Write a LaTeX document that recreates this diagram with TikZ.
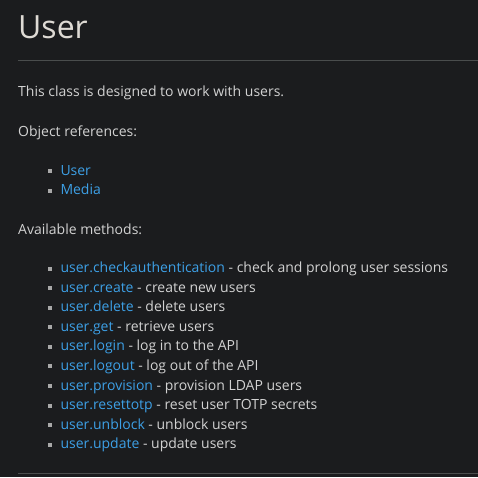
\documentclass[tikz,border=0pt]{standalone}
\usepackage{fontspec}
\setmainfont{Open Sans}
\definecolor{bg}{HTML}{1B1C1E}
\definecolor{txt}{HTML}{D2D2D2}
\definecolor{ttl}{HTML}{DEDAD4}
\definecolor{lnk}{HTML}{3DA0E6}
\definecolor{rulec}{HTML}{4A4D4D}
\definecolor{bul}{HTML}{A8A8A8}
\begin{document}
\begin{tikzpicture}[x=1pt,y=-1pt,
  body/.style={anchor=base west,inner sep=0pt,text=txt,font=\fontsize{14}{16}\selectfont},
  ttlstyle/.style={anchor=base west,inner sep=0pt,text=ttl,font=\fontsize{32}{36}\selectfont},
  hrule/.style={draw=rulec,line width=1pt},
  bullet/.style={fill=bul,draw=none}]
\fill[bg] (0,0) rectangle (478,477);
\useasboundingbox (0,0) rectangle (478,477);
\node[ttlstyle] (title) at (18,38) {User};
\coordinate (r1a) at (18,60.5);
\coordinate (r1b) at (478,60.5);
\draw[hrule] (r1a) -- (r1b);
\node[body] (intro) at (18,96) {This class is designed to work with users.};
\node[body] (objref) at (18,136) {Object references:};
\foreach \y/\nm/\t in {175/o1/User,194.5/o2/Media}{
  \fill[bullet] (48.3,\y-6) rectangle (52.3,\y-2);
  \node[body] (\nm) at (60.3,\y) {\textcolor{lnk}{\t}};
}
\node[body] (avail) at (18,234) {Available methods:};
\foreach \i/\a/\b in {0/checkauthentication/check and prolong user sessions,
  1/create/create new users,
  2/delete/delete users,
  3/get/retrieve users,
  4/login/log in to the API,
  5/logout/log out of the API,
  6/provision/provision LDAP users,
  7/resettotp/reset user TOTP secrets,
  8/unblock/unblock users,
  9/update/update users}{
  \pgfmathsetmacro{\yy}{272.7+19.55*\i}
  \fill[bullet] (48.3,\yy-6) rectangle (52.3,\yy-2);
  \node[body] (m\i) at (60.3,\yy) {\textcolor{lnk}{user.\a} - \b};
}
\coordinate (r2a) at (18,473.5);
\coordinate (r2b) at (478,473.5);
\draw[hrule] (r2a) -- (r2b);
\end{tikzpicture}
\end{document}
